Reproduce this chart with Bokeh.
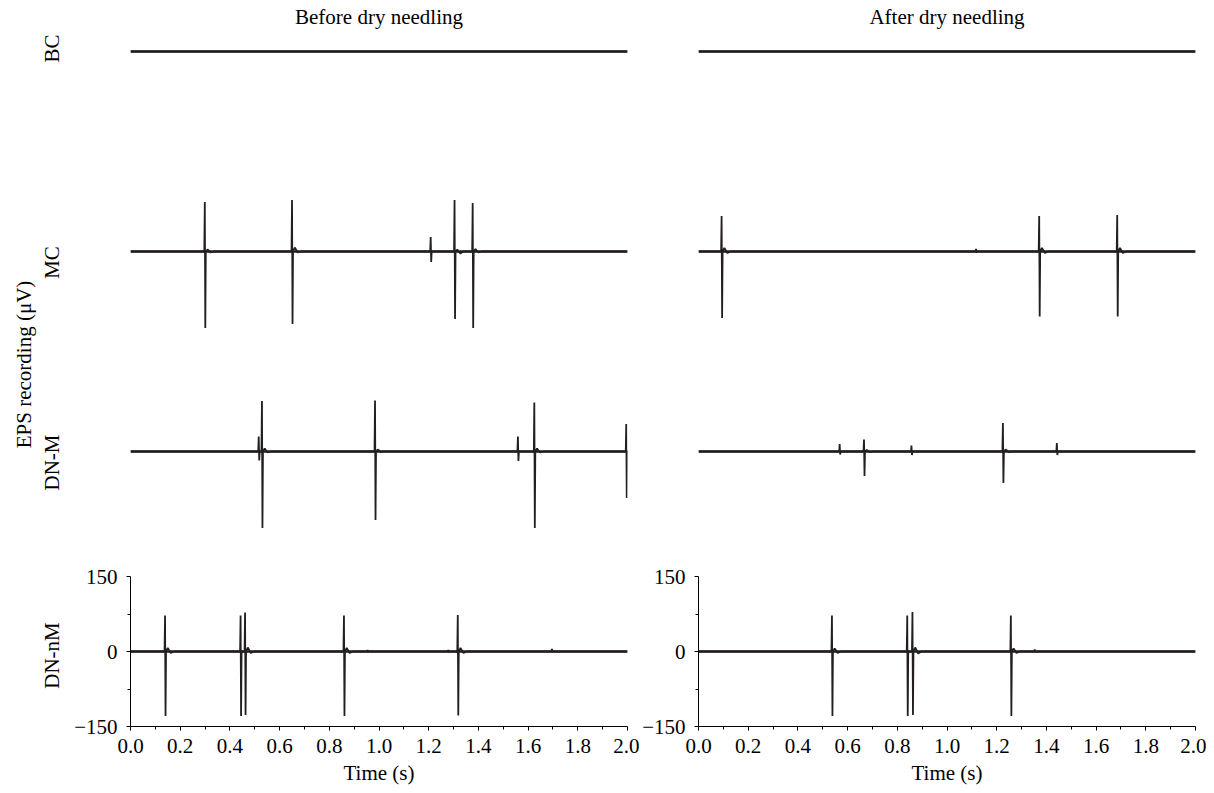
import math
from bokeh.plotting import figure
from bokeh.models import LinearAxis, FixedTicker, NumeralTickFormatter
from bokeh.layouts import row
from bokeh.embed import file_html
from bokeh.resources import INLINE

FONT = "Liberation Serif"
INK = "#231f20"
FS = "21px"

# ---------------- data ----------------
time_span = [0.0, 2.0]
x_ticks = [0.0, 0.2, 0.4, 0.6, 0.8, 1.0, 1.2, 1.4, 1.6, 1.8, 2.0]
x_minor = [0.1, 0.3, 0.5, 0.7, 0.9, 1.1, 1.3, 1.5, 1.7, 1.9]
y_ticks = [-150, 0, 150]
y_minor = [-75, 75]
y_tick_labels = ["\u2212150", "0", "150"]
panel_titles = ["Before dry needling", "After dry needling"]
row_names = ["BC", "MC", "DN-M", "DN-nM"]
row_offsets = [1200, 800, 400, 0]          # uV offset of each trace
y_label = "EPS recording (\u03bcV)"
x_label = "Time (s)"

# spikes: (time s, peak uV, trough uV, after-bump uV, after-dip uV)
before_bc = []
before_mc = [(0.300, 99, -153, 4, -2), (0.651, 103, -145, 8, -2), (1.209, 29, -21, 0, 0),
             (1.305, 103, -135, 4, -4), (1.378, 97, -153, 5, -2)]
before_dnm = [(0.517, 30, -18, 0, 0), (0.530, 101, -153, 6, -2), (0.985, 102, -137, 4, -1),
              (1.560, 30, -19, 0, 0), (1.626, 98, -153, 6, -2), (1.996, 55, -93, 0, 0)]
before_dnnm = [(0.140, 72, -129, 7, -3), (0.444, 72, -129, 0, 0), (0.462, 78, -127, 8, -3),
               (0.860, 72, -129, 7, -3), (0.955, 3, -1, 0, 0), (1.280, 3, -1, 0, 0),
               (1.318, 73, -128, 7, -3), (1.697, 5, -1, 0, 0)]

after_bc = []
after_mc = [(0.094, 71, -133, 7, -3), (1.118, 5, -2, 0, 0), (1.372, 71, -130, 7, -3),
            (1.686, 73, -130, 7, -3)]
after_dnm = [(0.569, 15, -6, 0, 0), (0.667, 24, -49, 3, -1), (0.858, 12, -7, 0, 0),
             (1.226, 57, -63, 4, -1), (1.443, 17, -7, 0, 0)]
after_dnnm = [(0.538, 72, -129, 6, -3), (0.841, 72, -129, 0, 0), (0.862, 79, -127, 8, -4),
              (1.258, 72, -129, 6, -3), (1.354, 4, -1, 0, 0)]

before_traces = [before_bc, before_mc, before_dnm, before_dnnm]
after_traces = [after_bc, after_mc, after_dnm, after_dnnm]

# layout-only constants
row_label_y = [1206, 778, 378, -8]
y_label_pos = 574


def build_trace(spikes, offset):
    xs = [time_span[0]]
    ys = [offset]
    for (t, up, dn, bump, dip) in spikes:
        xs += [t - 0.003, t - 0.001, t + 0.001, t + 0.003]
        ys += [offset, offset + up, offset + dn, offset]
        if bump or dip:
            xs += [t + 0.010, t + 0.022, t + 0.035]
            ys += [offset + bump, offset + dip, offset]
    xs.append(time_span[1])
    ys.append(offset)
    return xs, ys


def style_axis(ax):
    ax.axis_line_color = "black"
    ax.axis_line_width = 1
    ax.major_tick_line_color = "black"
    ax.minor_tick_line_color = "black"
    ax.major_tick_in = 0
    ax.major_tick_out = 4
    ax.minor_tick_in = 0
    ax.minor_tick_out = 3
    ax.major_label_text_font = FONT
    ax.major_label_text_font_size = FS
    ax.major_label_text_color = "black"
    ax.axis_label_text_font = FONT
    ax.axis_label_text_font_size = FS
    ax.axis_label_text_font_style = "normal"
    ax.axis_label_text_color = "black"


def make_panel(title, traces, left_border, right_border, with_row_labels):
    p = figure(frame_width=497, frame_height=696,
               x_range=(time_span[0], time_span[1]), y_range=(-150, 1242),
               output_backend="svg", toolbar_location=None,
               min_border_left=left_border, min_border_right=right_border,
               min_border_top=0, min_border_bottom=0)
    p.title.text = title
    p.title.align = "center"
    p.title.text_font = FONT
    p.title.text_font_size = FS
    p.title.text_font_style = "normal"
    p.title.text_color = "black"
    p.title.standoff = 4
    p.grid.visible = False
    p.outline_line_color = None

    for spikes, off in zip(traces, row_offsets):
        xs, ys = build_trace(spikes, off)
        p.line(time_span, [off, off], line_color=INK, line_width=2.4)
        p.line(xs, ys, line_color=INK, line_width=1.8)

    xa = p.xaxis[0]
    style_axis(xa)
    xa.ticker = FixedTicker(ticks=x_ticks, minor_ticks=x_minor)
    xa.formatter = NumeralTickFormatter(format="0.0")
    xa.major_label_standoff = 8
    xa.axis_label = x_label
    xa.axis_label_standoff = 5

    ya = p.yaxis[0]
    style_axis(ya)
    ya.ticker = FixedTicker(ticks=y_ticks, minor_ticks=y_minor)
    ya.bounds = (y_ticks[0], y_ticks[-1])
    ya.major_label_overrides = {t: s for t, s in zip(y_ticks, y_tick_labels)}
    ya.major_label_standoff = 9

    if with_row_labels:
        ra = LinearAxis(ticker=FixedTicker(ticks=row_label_y))
        style_axis(ra)
        ra.axis_line_color = None
        ra.major_tick_line_color = None
        ra.minor_tick_line_color = None
        ra.major_tick_out = 0
        ra.major_label_orientation = "parallel"
        ra.major_label_standoff = 8
        ra.major_label_overrides = {y: n for y, n in zip(row_label_y, row_names)}
        p.add_layout(ra, "left")

        ea = LinearAxis(ticker=FixedTicker(ticks=[y_label_pos]))
        style_axis(ea)
        ea.axis_line_color = None
        ea.major_tick_line_color = None
        ea.minor_tick_line_color = None
        ea.major_tick_out = 0
        ea.major_label_orientation = "parallel"
        ea.major_label_standoff = 1
        ea.major_label_overrides = {y_label_pos: y_label}
        p.add_layout(ea, "left")
    return p


p1 = make_panel(panel_titles[0], before_traces, 130, 12, True)
p2 = make_panel(panel_titles[1], after_traces, 58, 11, False)

layout = row(p1, p2)
open("out.html", "w").write(file_html(layout, INLINE))
